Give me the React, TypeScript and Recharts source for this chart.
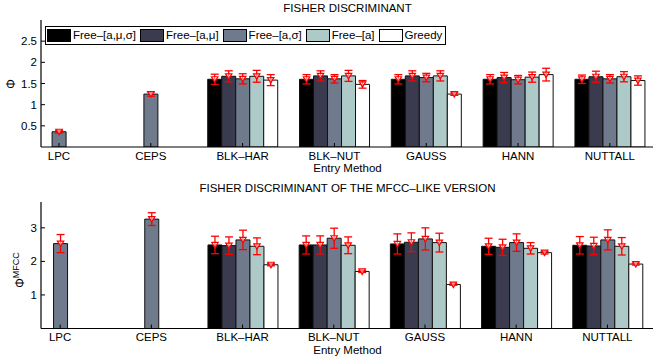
import React from 'react';
import { BarChart, Bar, XAxis, YAxis, ErrorBar, LabelList, Legend } from 'recharts';

// ---------- data ----------
const categories = ['LPC', 'CEPS', 'BLK–HAR', 'BLK–NUT', 'GAUSS', 'HANN', 'NUTTALL'];
const categoryPositions = [1, 2, 3, 4, 5, 6, 7];
const seriesNames = ['Free–[a,μ,σ]', 'Free–[a,μ]', 'Free–[a,σ]', 'Free–[a]', 'Greedy'];

// Top panel: Fisher discriminant (Φ)
const fisherFreeAMuSigma = [null, null, 1.6, 1.6, 1.6, 1.6, 1.6];
const fisherFreeAMu = [null, null, 1.67, 1.68, 1.68, 1.64, 1.66];
const fisherFreeASigma = [0.36, 1.25, 1.61, 1.61, 1.64, 1.59, 1.61];
const fisherFreeA = [null, null, 1.67, 1.68, 1.68, 1.65, 1.66];
const fisherGreedy = [null, null, 1.58, 1.48, 1.25, 1.71, 1.57];

const fisherErrFreeAMuSigma = [null, null, 0.12, 0.11, 0.11, 0.11, 0.1];
const fisherErrFreeAMu = [null, null, 0.13, 0.12, 0.12, 0.12, 0.13];
const fisherErrFreeASigma = [0.03, 0.05, 0.12, 0.1, 0.1, 0.1, 0.1];
const fisherErrFreeA = [null, null, 0.14, 0.13, 0.12, 0.12, 0.12];
const fisherErrGreedy = [null, null, 0.13, 0.09, 0.03, 0.15, 0.11];

const fisherTicks = [0.5, 1, 1.5, 2, 2.5];

// Bottom panel: Fisher discriminant of the MFCC-like version (Φ^MFCC)
const mfccFreeAMuSigma = [null, null, 2.49, 2.49, 2.52, 2.45, 2.48];
const mfccFreeAMu = [null, null, 2.47, 2.49, 2.57, 2.42, 2.46];
const mfccFreeASigma = [2.53, 3.26, 2.64, 2.69, 2.67, 2.56, 2.64];
const mfccFreeA = [null, null, 2.45, 2.48, 2.56, 2.39, 2.45];
const mfccGreedy = [null, null, 1.9, 1.7, 1.31, 2.26, 1.92];

const mfccErrFreeAMuSigma = [null, null, 0.26, 0.27, 0.3, 0.24, 0.26];
const mfccErrFreeAMu = [null, null, 0.26, 0.27, 0.28, 0.24, 0.26];
const mfccErrFreeASigma = [0.27, 0.19, 0.29, 0.3, 0.33, 0.26, 0.3];
const mfccErrFreeA = [null, null, 0.25, 0.25, 0.28, 0.17, 0.26];
const mfccErrGreedy = [null, null, 0.03, 0.03, 0.02, 0.04, 0.03];

const mfccTicks = [1, 2, 3];

// ---------- styles ----------
const FONT = '"Liberation Sans", Arial, Helvetica, sans-serif';
const seriesStyle = [
  { key: 's0', err: 'e0', fill: '#000000' },
  { key: 's1', err: 'e1', fill: '#3b3b4f' },
  { key: 's2', err: 'e2', fill: '#6f7b8d' },
  { key: 's3', err: 'e3', fill: '#adc9c8' },
  { key: 's4', err: 'e4', fill: '#ffffff' },
];

function buildRows(vals: (number | null)[][], errs: (number | null)[][]) {
  return categories.map((name, i) => {
    const row: any = { x: categoryPositions[i], name };
    seriesStyle.forEach((s, j) => {
      row[s.key] = vals[j][i];
      row[s.err] = errs[j][i];
    });
    return row;
  });
}

const fisherRows = buildRows(
  [fisherFreeAMuSigma, fisherFreeAMu, fisherFreeASigma, fisherFreeA, fisherGreedy],
  [fisherErrFreeAMuSigma, fisherErrFreeAMu, fisherErrFreeASigma, fisherErrFreeA, fisherErrGreedy]
);
const mfccRows = buildRows(
  [mfccFreeAMuSigma, mfccFreeAMu, mfccFreeASigma, mfccFreeA, mfccGreedy],
  [mfccErrFreeAMuSigma, mfccErrFreeAMu, mfccErrFreeASigma, mfccErrFreeA, mfccErrGreedy]
);

const Triangle = (props: any) => {
  const { x, y, width, value } = props;
  if (value == null || x == null) return null;
  const cx = Number(x) + Number(width) / 2;
  const cy = Number(y);
  return (
    <path
      d={`M${cx - 3.2},${cy - 2.5} L${cx + 3.2},${cy - 2.5} L${cx},${cy + 3} Z`}
      fill="#ffffff"
      fillOpacity={0.5}
      stroke="#ff0000"
      strokeWidth={1.2}
    />
  );
};

const renderLegend = (props: any) => {
  const payload = props.payload || [];
  return (
    <div
      style={{
        display: 'flex',
        alignItems: 'center',
        border: '1px solid #000',
        background: '#fff',
        height: 19,
        paddingLeft: 1,
        paddingRight: 3,
        boxSizing: 'border-box',
        fontFamily: FONT,
        fontSize: 11.5,
        color: '#000',
      }}
    >
      {payload.map((p: any, j: number) => (
        <div key={j} style={{ display: 'flex', alignItems: 'center', marginRight: j < payload.length - 1 ? 4 : 0 }}>
          <span
            style={{
              display: 'inline-block',
              width: 24,
              height: 13,
              boxSizing: 'border-box',
              background: p.color,
              border: '1px solid #000',
              marginRight: 2,
            }}
          />
          <span style={{ whiteSpace: 'nowrap', lineHeight: '13px' }}>{p.value}</span>
        </div>
      ))}
    </div>
  );
};

const tickStyle = { fill: '#000', fontSize: 11.5, fontFamily: FONT };

function Panel(props: {
  rows: any[];
  height: number;
  margin: any;
  yDomain: [number, number];
  yTicks: number[];
  xDomain: [number, number];
  xTickMargin: number;
  yLabel: (p: any) => any;
  legend?: boolean;
}) {
  const { rows, height, margin, yDomain, yTicks, xDomain, xTickMargin, yLabel, legend } = props;
  return (
    <BarChart width={655} height={height} data={rows} margin={margin} barSize={14} barGap={0}>
      <XAxis
        dataKey="x"
        type="number"
        domain={xDomain}
        allowDataOverflow
        ticks={categoryPositions}
        interval={0}
        tickFormatter={(v: number) => categories[v - 1]}
        tickSize={-4}
        tickMargin={xTickMargin}
        height={20}
        axisLine={{ stroke: '#000', strokeWidth: 1.2 }}
        tickLine={{ stroke: '#000' }}
        tick={tickStyle}
      />
      <XAxis
        xAxisId="top"
        orientation="top"
        type="number"
        domain={xDomain}
        allowDataOverflow
        ticks={categoryPositions}
        interval={0}
        tick={false}
        tickSize={-4}
        height={0}
        axisLine={{ stroke: '#000' }}
        tickLine={{ stroke: '#000' }}
      />
      <YAxis
        type="number"
        domain={yDomain}
        allowDataOverflow
        ticks={yTicks}
        interval={0}
        width={30}
        tickSize={-4}
        tickMargin={8}
        axisLine={{ stroke: '#000', strokeWidth: 1.2 }}
        tickLine={{ stroke: '#000' }}
        tick={tickStyle}
        label={yLabel}
      />
      <YAxis
        yAxisId="right"
        orientation="right"
        type="number"
        domain={yDomain}
        allowDataOverflow
        ticks={yTicks}
        interval={0}
        width={0}
        tick={false}
        tickSize={-4}
        axisLine={{ stroke: '#000' }}
        tickLine={{ stroke: '#000' }}
      />
      {legend ? (
        <Legend
          layout="horizontal"
          verticalAlign="middle"
          align="center"
          content={renderLegend}
          wrapperStyle={{ position: 'absolute', left: 45, top: 26, width: 'auto', height: 'auto' }}
        />
      ) : null}
      {seriesStyle.map((s, j) => (
        <Bar
          key={s.key}
          dataKey={s.key}
          name={seriesNames[j]}
          fill={s.fill}
          stroke="#111"
          strokeWidth={1}
          isAnimationActive={false}
        >
          <ErrorBar dataKey={s.err} direction="y" width={4} stroke="#ff0000" strokeWidth={1.3} />
          <LabelList dataKey={s.key} content={Triangle} />
        </Bar>
      ))}
    </BarChart>
  );
}

const fisherYLabel = () => (
  <text
    x={0}
    y={0}
    transform="translate(15,84) rotate(-90)"
    textAnchor="middle"
    fontFamily={FONT}
    fontSize={12}
    fill="#000"
  >
    Φ
  </text>
);

// bottom panel chart starts at page y = 180, so y = 90 here is page y = 270
const mfccYLabel = () => (
  <text
    x={0}
    y={0}
    transform="translate(24,90) rotate(-90)"
    textAnchor="middle"
    fontFamily={FONT}
    fontSize={12}
    fill="#000"
  >
    <tspan>Φ</tspan>
    <tspan dy={-5} fontSize={9}>MFCC</tspan>
  </text>
);

const textBase: React.CSSProperties = {
  position: 'absolute',
  fontFamily: FONT,
  fontSize: 11.5,
  lineHeight: '11.5px',
  color: '#000',
  whiteSpace: 'nowrap',
  textAlign: 'center',
  width: 655,
  left: 20,
};

export default function App() {
  return (
    <div style={{ position: 'absolute', left: 0, top: 0, width: 655, height: 358, background: '#fff', overflow: 'hidden' }}>
      <div style={{ ...textBase, top: 3 }}>FISHER DISCRIMINANT</div>
      <div style={{ position: 'absolute', left: 0, top: 0 }}>
        <Panel
          rows={fisherRows}
          height={180}
          margin={{ top: 20, right: 2, bottom: 13, left: 11 }}
          yDomain={[0, 3]}
          yTicks={fisherTicks}
          xDomain={[0.804, 7.47]}
          xTickMargin={9}
          yLabel={fisherYLabel}
          legend
        />
      </div>
      <div style={{ ...textBase, top: 163 }}>Entry Method</div>

      <div style={{ ...textBase, top: 183 }}>FISHER DISCRIMINANT OF THE MFCC–LIKE VERSION</div>
      <div style={{ position: 'absolute', left: 0, top: 180 }}>
        <Panel
          rows={mfccRows}
          height={178}
          margin={{ top: 22, right: 2, bottom: 9.5, left: 11 }}
          yDomain={[0, 3.77]}
          yTicks={mfccTicks}
          xDomain={[0.79, 7.5]}
          xTickMargin={8}
          yLabel={mfccYLabel}
        />
      </div>
      <div style={{ ...textBase, top: 344.5 }}>Entry Method</div>
    </div>
  );
}
